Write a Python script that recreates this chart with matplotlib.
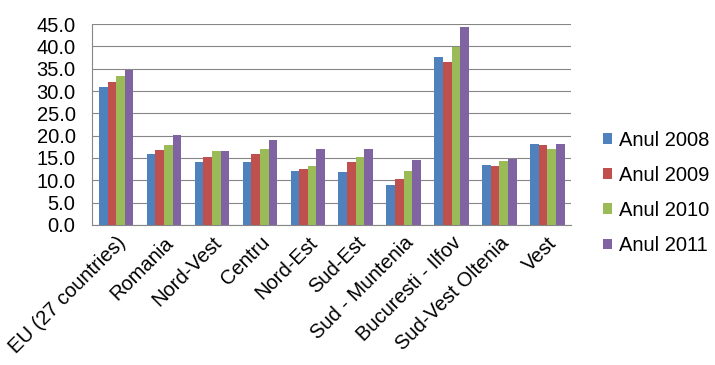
import matplotlib
matplotlib.use("Agg")
import matplotlib.pyplot as plt
import numpy as np

plt.rcParams["font.family"] = ["Liberation Sans", "DejaVu Sans"]

regioni = ["EU (27 countries)", "Romania", "Nord-Vest", "Centru", "Nord-Est",
           "Sud-Est", "Sud - Muntenia", "Bucuresti - Ilfov", "Sud-Vest Oltenia", "Vest"]
anul_2008 = [30.9, 15.9, 14.1, 14.1, 12.1, 11.9, 9.0, 37.7, 13.5, 18.2]
anul_2009 = [32.1, 16.7, 15.3, 15.9, 12.6, 14.1, 10.3, 36.5, 13.2, 17.9]
anul_2010 = [33.4, 17.9, 16.6, 17.0, 13.2, 15.2, 12.1, 39.8, 14.3, 17.0]
anul_2011 = [34.6, 20.2, 16.6, 19.1, 17.0, 17.0, 14.6, 44.4, 14.8, 18.2]
serii = ["Anul 2008", "Anul 2009", "Anul 2010", "Anul 2011"]
culori = ["#4F81BD", "#C0504D", "#9BBB59", "#8064A2"]

fig = plt.figure(figsize=(7.15, 3.65), dpi=100)
ax = fig.add_axes([0.129, 0.384, 0.67, 0.550])

x = np.arange(len(regioni))
w = 0.18
for k, (vals, nume, c) in enumerate(zip([anul_2008, anul_2009, anul_2010, anul_2011], serii, culori)):
    ax.bar(x + (k - 1.5) * w, vals, width=w, color=c, label=nume, zorder=2)

ax.set_xlim(-0.5, len(regioni) - 0.5)
ax.set_ylim(0, 45)
ax.set_yticks(np.arange(0, 46, 5))
ax.set_yticklabels([f"{v:.1f}" for v in np.arange(0, 46, 5)], fontsize=14.5)
ax.yaxis.grid(True, color="#868686", linewidth=0.8, zorder=0)
ax.set_xticks(x)
ax.set_xticklabels(regioni, rotation=45, ha="right", rotation_mode="anchor", fontsize=14.5)
ax.tick_params(axis="y", length=0, pad=12)
ax.tick_params(axis="x", length=0, pad=6)
for s in ["top", "right"]:
    ax.spines[s].set_visible(False)
ax.spines["left"].set_color("#868686")
ax.spines["bottom"].set_color("#868686")

fig.legend(*ax.get_legend_handles_labels(), loc="center left",
           bbox_to_anchor=(603 / 715, 1 - 193 / 365), bbox_transform=fig.transFigure,
           frameon=False, fontsize=14.5, borderaxespad=0, borderpad=0,
           handlelength=0.45, handleheight=0.45, handletextpad=0.35, labelspacing=0.8)

fig.savefig("out.png", dpi=100)
